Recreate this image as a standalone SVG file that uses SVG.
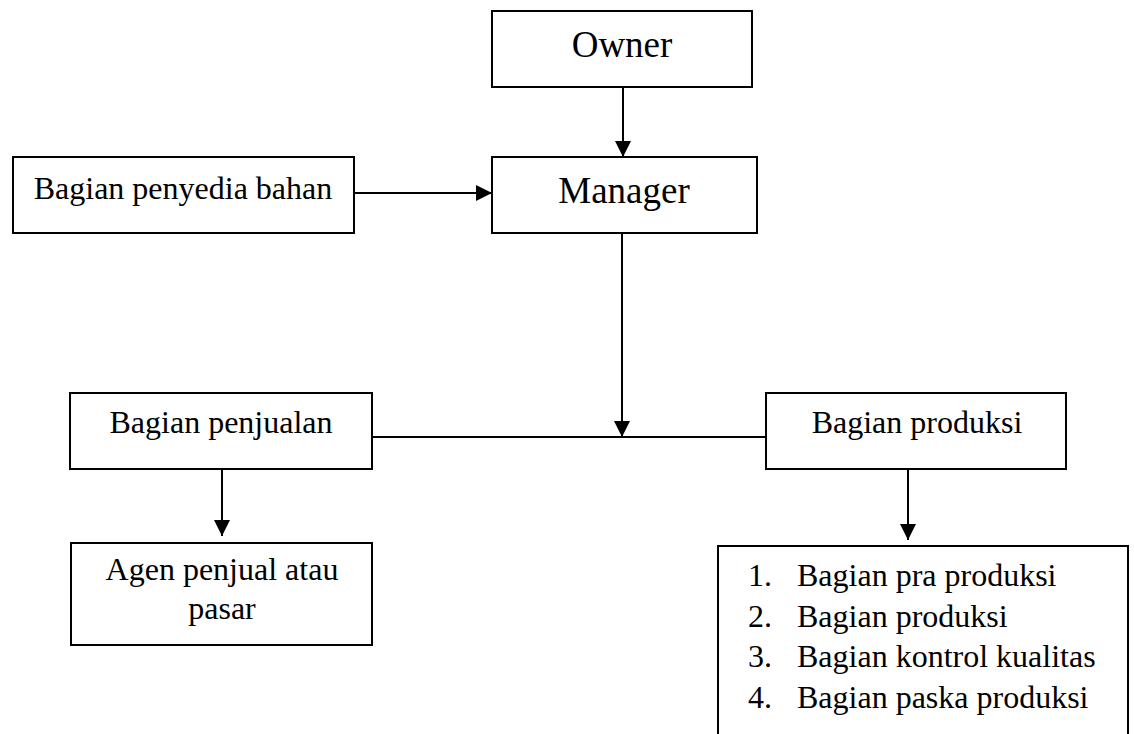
<svg xmlns="http://www.w3.org/2000/svg" width="1134" height="734" viewBox="0 0 1134 734">
<style>
.box{fill:#fff;stroke:#000;stroke-width:2}
.t{font-family:"Liberation Serif","Times New Roman",serif;font-size:32px;fill:#000}
.big{font-size:37px}
.c{text-anchor:middle}
.ln{stroke:#000;stroke-width:2;fill:none}
</style>
<defs>
<marker id="ah" markerUnits="userSpaceOnUse" markerWidth="16" markerHeight="16" viewBox="0 0 16 16" refX="16" refY="8" orient="auto">
<path d="M0,0 L16,8 L0,16 Z" fill="#000"/>
</marker>
</defs>
<rect width="1134" height="734" fill="#fff"/>
<g id="connectors">
<line class="ln" x1="623" y1="87" x2="623" y2="157" marker-end="url(#ah)"/>
<line class="ln" x1="354" y1="193" x2="492" y2="193" marker-end="url(#ah)"/>
<line class="ln" x1="622" y1="233" x2="622" y2="437" marker-end="url(#ah)"/>
<line class="ln" x1="372" y1="437" x2="766" y2="437"/>
<line class="ln" x1="222" y1="469" x2="222" y2="536" marker-end="url(#ah)"/>
<line class="ln" x1="908" y1="469" x2="908" y2="540" marker-end="url(#ah)"/>
</g>
<g id="owner">
<rect class="box" x="492" y="11" width="260" height="76"/>
<text class="t big c" x="622" y="57">Owner</text>
</g>
<g id="manager">
<rect class="box" x="492" y="157" width="265" height="76"/>
<text class="t big c" x="624" y="203">Manager</text>
</g>
<g id="penyedia">
<rect class="box" x="13" y="157" width="341" height="76"/>
<text class="t c" x="183" y="199">Bagian penyedia bahan</text>
</g>
<g id="penjualan">
<rect class="box" x="70" y="393" width="302" height="76"/>
<text class="t c" x="221" y="433">Bagian penjualan</text>
</g>
<g id="produksi">
<rect class="box" x="766" y="393" width="300" height="76"/>
<text class="t c" x="917" y="433">Bagian produksi</text>
</g>
<g id="agen">
<rect class="box" x="71" y="543" width="301" height="102"/>
<text class="t c" x="222" y="580">Agen penjual atau</text>
<text class="t c" x="222" y="619">pasar</text>
</g>
<g id="list">
<path class="ln" d="M718,736 L718,546 L1128,546 L1128,736"/>
<text class="t" x="748" y="586">1.</text>
<text class="t" x="797" y="586">Bagian pra produksi</text>
<text class="t" x="748" y="627">2.</text>
<text class="t" x="797" y="627">Bagian produksi</text>
<text class="t" x="748" y="667">3.</text>
<text class="t" x="797" y="667">Bagian kontrol kualitas</text>
<text class="t" x="748" y="708">4.</text>
<text class="t" x="797" y="708">Bagian paska produksi</text>
</g>
</svg>
